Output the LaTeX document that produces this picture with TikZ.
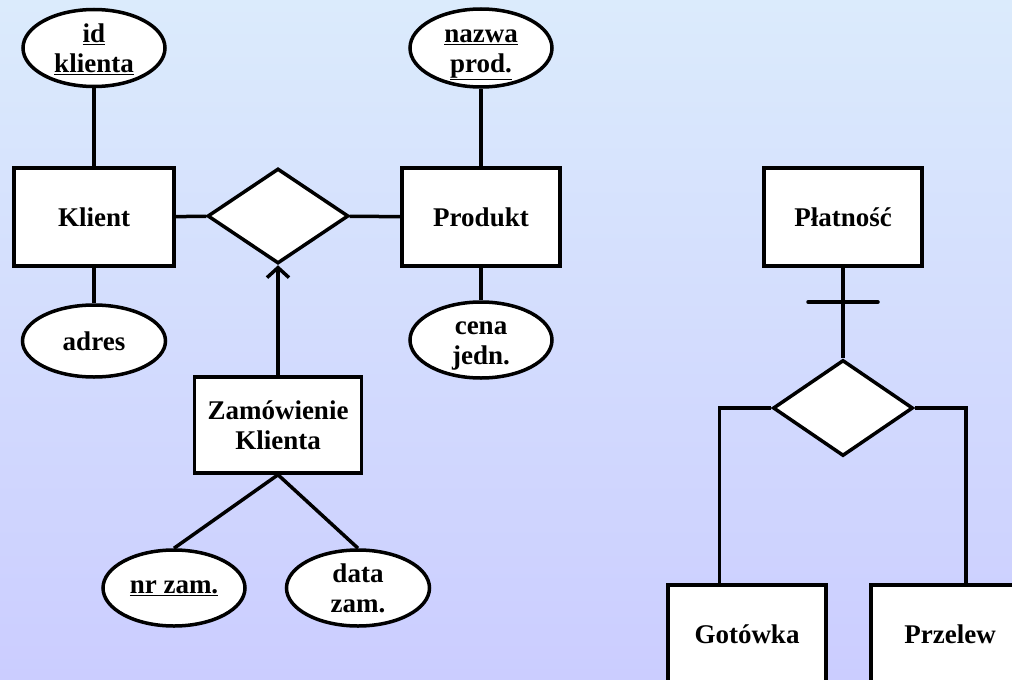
\documentclass[tikz,border=0pt]{standalone}
\usepackage{fontspec}
\setmainfont{Liberation Serif}
\usetikzlibrary{shapes.geometric,arrows.meta,calc}
\definecolor{bgtop}{RGB}{219,235,252}
\definecolor{bgbot}{RGB}{203,205,255}
% two centred lines whose baselines sit evenly around the node centre
\newcommand{\twolines}[2]{\vphantom{d}#1\\\raisebox{0pt}[\height][0pt]{#2}}
\begin{document}
\begin{tikzpicture}[x=1pt,y=-1pt,
  every node/.style={font=\fontsize{27}{30}\selectfont\bfseries, align=center},
  ent/.style={draw, fill=white, line width=3.5pt, inner sep=0pt, minimum width=158pt, minimum height=98pt},
  attr/.style={draw, fill=white, ellipse, line width=3.5pt, inner sep=0pt, minimum width=142pt, minimum height=76pt},
  rel/.style={draw, fill=white, diamond, line width=3.5pt, inner sep=0pt, minimum width=141pt, minimum height=95pt},
  conn/.style={line width=3.5pt}]
  % background
  \useasboundingbox (0,0) rectangle (1012,680);
  \clip (0,0) rectangle (1012,680);
  \shade[top color=bgtop, bottom color=bgbot] (0,0) rectangle (1012,680);

  % entities
  \node[ent, minimum width=160pt] (klient) at (94,217) {Klient};
  \node[ent] (produkt) at (481,217) {Produkt};
  \node[ent, minimum width=167pt, minimum height=96pt] (zam) at (278,425) {\twolines{Zamówienie}{Klienta}};
  \node[ent] (platnosc) at (843,217) {Płatność};
  \node[ent] (gotowka) at (747,634) {Gotówka};
  \node[ent] (przelew) at (950,634) {Przelew};

  % relationships
  \node[rel] (zakup) at (278,216) {};
  \node[rel, minimum width=140pt, minimum height=96pt] (rodzaj) at (843,408) {};

  % attributes
  \node[attr, minimum height=77pt] (idk) at (94,48) {\twolines{\underline{id}}{\underline{klienta}}};
  \node[attr, minimum width=143pt, minimum height=72pt] (adres) at (94,341) {adres};
  \node[attr, minimum height=78pt] (nazwa) at (481,48) {\twolines{\underline{nazwa}}{\underline{prod.}}};
  \node[attr] (cena) at (481,340) {\twolines{cena}{jedn.}};
  \node[attr] (nrzam) at (174,588) {\underline{nr zam.}};
  \node[attr, minimum width=143pt] (datazam) at (358,588) {\twolines{data}{zam.}};

  % connectors
  \draw[conn] (idk) -- (klient);
  \draw[conn] (klient) -- (adres);
  \draw[conn] (nazwa) -- (produkt);
  \draw[conn] (produkt) -- (cena);
  \draw[conn] (klient) -- (zakup);
  \draw[conn] (zakup) -- (produkt);
  \draw[conn, -{Straight Barb[length=10pt,width=22pt]}] (zam.north) -- (zakup.south);
  \draw[conn] (zam.south) -- (nrzam.north);
  \draw[conn] (zam.south) -- (datazam.north);

  \draw[conn] (platnosc.south) -- (rodzaj.north);
  \coordinate (jeden) at (843,302);
  \draw[conn, line cap=round] ([xshift=-35pt]jeden) -- ([xshift=35pt]jeden);
  \draw[conn] (rodzaj.west) -| ($(gotowka.north west)!0.33!(gotowka.north east)$);
  \draw[conn] (rodzaj.east) -| ($(przelew.north west)!0.6!(przelew.north east)$);
\end{tikzpicture}
\end{document}
